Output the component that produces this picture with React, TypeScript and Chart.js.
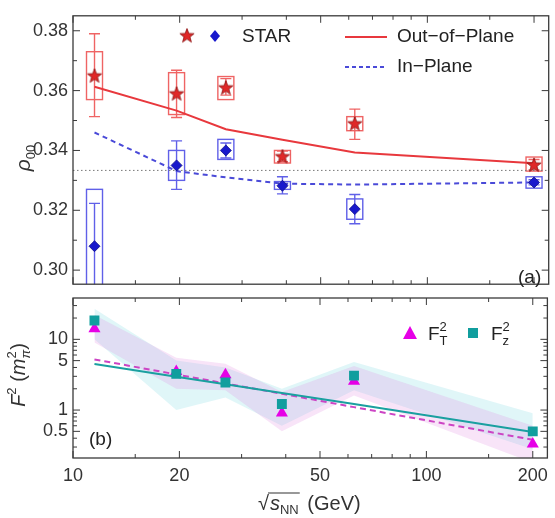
import React, { useEffect, useRef } from 'react';
import { Chart, registerables } from 'chart.js';
Chart.register(...registerables);

// ---------- data ----------
const energies = [11.5, 19.6, 27, 39, 62.4, 200];

// STAR stars (red)
const rhoStar = [0.365, 0.359, 0.361, 0.338, 0.349, 0.3352];
const rhoStarStatLo = [0.3513, 0.351, 0.3585, 0.3362, 0.3437, 0.3335];
const rhoStarStatHi = [0.379, 0.3668, 0.364, 0.3398, 0.3538, 0.337];
const rhoStarSysLo = [0.357, 0.352, 0.357, 0.3358, 0.3466, 0.3331];
const rhoStarSysHi = [0.373, 0.366, 0.3647, 0.340, 0.3513, 0.3378];

// STAR diamonds (blue)
const rhoDia = [0.308, 0.335, 0.340, 0.3282, 0.3204, 0.3293];
const rhoDiaStatLo = [0.2935, 0.327, 0.3375, 0.3255, 0.3155, 0.3285];
const rhoDiaStatHi = [0.3223, 0.3432, 0.3425, 0.3312, 0.3253, 0.3302];
const rhoDiaSysLo = [0.289, 0.330, 0.337, 0.327, 0.317, 0.3274];
const rhoDiaSysHi = [0.327, 0.340, 0.3437, 0.3296, 0.3238, 0.3312];

// model curves
const outOfPlane = [0.3613, 0.3533, 0.3471, 0.3436, 0.3393, 0.3357];
const inPlane = [0.346, 0.3331, 0.331, 0.3289, 0.3286, 0.3293];
const thirdX = [10, 220];
const thirdY = [1 / 3, 1 / 3];

// panel (b)
const fT2 = [14.1, 3.5, 3.15, 0.91, 2.55, 0.33];
const fZ2 = [18.5, 3.25, 2.45, 1.22, 3.07, 0.5];
const fitT = [5.2, 3.19, 2.38, 1.7, 1.1, 0.38];
const fitZ = [4.47, 2.96, 2.31, 1.74, 1.22, 0.49];
const bandZHi = [27, 5.0, 4.0, 2.0, 4.8, 0.9];
const bandZLo = [10, 1.0, 1.5, 0.6, 1.9, 0.28];
const bandTHi = [22, 5.5, 4.5, 1.8, 4.2, 0.6];
const bandTLo = [9, 2.0, 1.9, 0.5, 1.6, 0.18];

// ticks
const xMajorTicks = [10, 20, 50, 100, 200];
const xMinorTicks = [15, 30, 40, 60, 70, 80, 90, 150];
const rhoMajorTicks = [0.30, 0.32, 0.34, 0.36, 0.38];
const rhoMinorTicks = [0.31, 0.33, 0.35, 0.37];
const fMajorTicks = [0.5, 1, 5, 10];
const fMinorTicks = [0.3, 0.4, 0.6, 0.7, 0.8, 0.9, 2, 3, 4, 6, 7, 8, 9, 20, 30];

const FONT = '"Liberation Sans", Arial, sans-serif';
const TXT = '#333';
const RED = '#e8383d';
const BLUE = '#4a4ad8';

const pts = (ys: number[], xs: number[] = energies) => xs.map((x, i) => ({ x, y: ys[i] }));

function starPath(ctx: CanvasRenderingContext2D, cx: number, cy: number, R: number, r: number) {
  ctx.beginPath();
  for (let i = 0; i < 10; i++) {
    const a = -Math.PI / 2 + (i * Math.PI) / 5;
    const rad = i % 2 === 0 ? R : r;
    const px = cx + rad * Math.cos(a);
    const py = cy + rad * Math.sin(a);
    if (i === 0) ctx.moveTo(px, py);
    else ctx.lineTo(px, py);
  }
  ctx.closePath();
}

function makeStar(): HTMLCanvasElement {
  const c = document.createElement('canvas');
  c.width = 18;
  c.height = 18;
  const g = c.getContext('2d')!;
  starPath(g, 9, 9.5, 7.5, 3.1);
  g.fillStyle = '#e02828';
  g.fill();
  g.strokeStyle = '#8a1010';
  g.lineWidth = 0.8;
  g.stroke();
  return c;
}

type Part = { t: string; f: string; dy?: number; stack?: boolean };
function drawParts(ctx: CanvasRenderingContext2D, parts: Part[], x: number, y: number, center = false) {
  let w = 0;
  const widths: number[] = [];
  parts.forEach((p) => {
    ctx.font = p.f;
    widths.push(ctx.measureText(p.t).width);
  });
  parts.forEach((p, i) => {
    if (p.stack) return;
    const next = parts[i + 1];
    if (next && next.stack) w += Math.max(widths[i], widths[i + 1]);
    else w += widths[i];
  });
  let cx = center ? x - w / 2 : x;
  for (let i = 0; i < parts.length; i++) {
    const p = parts[i];
    ctx.font = p.f;
    ctx.fillText(p.t, cx, y + (p.dy || 0));
    const next = parts[i + 1];
    if (next && next.stack) {
      ctx.font = next.f;
      ctx.fillText(next.t, cx, y + (next.dy || 0));
      cx += Math.max(widths[i], widths[i + 1]);
      i++;
    } else {
      cx += widths[i];
    }
  }
}

function framePlugin(id: string, xMaj: number[], xMin: number[], yMaj: number[], yMin: number[]) {
  return {
    id,
    afterDraw(chart: any) {
      const { ctx, chartArea: a, scales } = chart;
      const xs = scales.x;
      const ys = scales.y;
      ctx.save();
      ctx.strokeStyle = '#3a3a3a';
      ctx.lineWidth = 1.3;
      ctx.strokeRect(a.left, a.top, a.right - a.left, a.bottom - a.top);
      ctx.lineWidth = 1;
      const tx = (v: number, L: number) => {
        const p = xs.getPixelForValue(v);
        if (p < a.left - 0.5 || p > a.right + 0.5) return;
        ctx.beginPath();
        ctx.moveTo(p, a.bottom);
        ctx.lineTo(p, a.bottom - L);
        ctx.moveTo(p, a.top);
        ctx.lineTo(p, a.top + L);
        ctx.stroke();
      };
      const ty = (v: number, L: number) => {
        const p = ys.getPixelForValue(v);
        if (p < a.top - 0.5 || p > a.bottom + 0.5) return;
        ctx.beginPath();
        ctx.moveTo(a.left, p);
        ctx.lineTo(a.left + L, p);
        ctx.moveTo(a.right, p);
        ctx.lineTo(a.right - L, p);
        ctx.stroke();
      };
      xMaj.forEach((v) => tx(v, 7));
      xMin.forEach((v) => tx(v, 4));
      yMaj.forEach((v) => ty(v, 7));
      yMin.forEach((v) => ty(v, 4));
      ctx.restore();
    },
  };
}

export default function App() {
  const topRef = useRef<HTMLCanvasElement>(null);
  const botRef = useRef<HTMLCanvasElement>(null);

  useEffect(() => {
    const starImg = makeStar();

    const errPlugin = {
      id: 'errBoxes',
      beforeDatasetsDraw(chart: any) {
        const { ctx, chartArea: a, scales } = chart;
        const xs = scales.x;
        const ys = scales.y;
        ctx.save();
        ctx.beginPath();
        ctx.rect(a.left, a.top, a.right - a.left, a.bottom - a.top);
        ctx.clip();
        const series = [
          { c: '#ef6464', slo: rhoStarStatLo, shi: rhoStarStatHi, blo: rhoStarSysLo, bhi: rhoStarSysHi },
          { c: '#6060e8', slo: rhoDiaStatLo, shi: rhoDiaStatHi, blo: rhoDiaSysLo, bhi: rhoDiaSysHi },
        ];
        series.forEach((s) => {
          ctx.strokeStyle = s.c;
          ctx.lineWidth = 1.4;
          energies.forEach((e, i) => {
            const px = xs.getPixelForValue(e);
            const yb1 = ys.getPixelForValue(s.bhi[i]);
            const yb2 = ys.getPixelForValue(s.blo[i]);
            ctx.strokeRect(px - 8, yb1, 16, yb2 - yb1);
            const ys1 = ys.getPixelForValue(s.shi[i]);
            const ys2 = ys.getPixelForValue(s.slo[i]);
            ctx.beginPath();
            ctx.moveTo(px, ys1);
            ctx.lineTo(px, ys2);
            ctx.moveTo(px - 5.5, ys1);
            ctx.lineTo(px + 5.5, ys1);
            ctx.moveTo(px - 5.5, ys2);
            ctx.lineTo(px + 5.5, ys2);
            ctx.stroke();
          });
        });
        ctx.restore();
      },
    };

    const topDeco = {
      id: 'topDeco',
      afterDraw(chart: any) {
        const { ctx } = chart;
        ctx.save();
        ctx.textBaseline = 'middle';
        ctx.drawImage(starImg, 187 - 9, 36 - 9.5);
        ctx.beginPath();
        ctx.moveTo(215, 30);
        ctx.lineTo(220, 36);
        ctx.lineTo(215, 42);
        ctx.lineTo(210, 36);
        ctx.closePath();
        ctx.fillStyle = '#1818cc';
        ctx.fill();
        ctx.fillStyle = '#222';
        ctx.font = `19px ${FONT}`;
        ctx.fillText('STAR', 242, 37);
        ctx.fillText('Out\u2212of\u2212Plane', 397, 37);
        ctx.fillText('In\u2212Plane', 397, 67);
        ctx.strokeStyle = RED;
        ctx.lineWidth = 2;
        ctx.beginPath();
        ctx.moveTo(345, 37);
        ctx.lineTo(387, 37);
        ctx.stroke();
        ctx.strokeStyle = BLUE;
        ctx.setLineDash([4, 3]);
        ctx.beginPath();
        ctx.moveTo(345, 67);
        ctx.lineTo(387, 67);
        ctx.stroke();
        ctx.setLineDash([]);
        ctx.fillStyle = '#222';
        ctx.fillText('(a)', 518, 278);
        ctx.translate(30, 158);
        ctx.rotate(-Math.PI / 2);
        ctx.textBaseline = 'alphabetic';
        ctx.fillStyle = '#333';
        drawParts(
          ctx,
          [
            { t: '\u03c1', f: `italic 21px ${FONT}` },
            { t: '00', f: `13px ${FONT}`, dy: 5 },
          ],
          0,
          0,
          true
        );
        ctx.restore();
      },
    };

    const top = new Chart(topRef.current!, {
      type: 'line',
      data: {
        datasets: [
          {
            label: 'third',
            data: pts(thirdY, thirdX),
            borderColor: '#777',
            borderWidth: 1,
            borderDash: [1.5, 2.5],
            pointRadius: 0,
            order: 20,
          },
          {
            label: 'Out-of-Plane',
            data: pts(outOfPlane),
            borderColor: RED,
            borderWidth: 2,
            pointRadius: 0,
            order: 10,
          },
          {
            label: 'In-Plane',
            data: pts(inPlane),
            borderColor: BLUE,
            borderWidth: 2,
            borderDash: [5, 4],
            pointRadius: 0,
            order: 10,
          },
          {
            label: 'STAR star',
            data: pts(rhoStar),
            showLine: false,
            pointStyle: starImg as any,
            order: 1,
          },
          {
            label: 'STAR diamond',
            data: pts(rhoDia),
            showLine: false,
            pointStyle: 'rectRot',
            pointRadius: 5.5,
            backgroundColor: '#1818cc',
            borderColor: '#10108a',
            borderWidth: 0.8,
            order: 1,
          },
        ],
      },
      options: {
        responsive: false,
        animation: false,
        events: [],
        layout: { padding: { left: 0, right: 3, top: 10, bottom: 2 } },
        plugins: { legend: { display: false }, tooltip: { enabled: false } },
        scales: {
          x: { type: 'logarithmic', min: 10, max: 220, display: false },
          y: {
            type: 'linear',
            min: 0.2953,
            max: 0.385,
            grid: { display: false, drawTicks: false },
            border: { display: false },
            ticks: {
              font: { family: FONT, size: 18 },
              color: TXT,
              padding: 5,
              callback: (v: any) => Number(v).toFixed(2),
            },
            afterBuildTicks: (s: any) => {
              s.ticks = rhoMajorTicks.map((v) => ({ value: v }));
            },
            afterFit: (s: any) => {
              s.width = 73;
            },
          },
        },
      },
      plugins: [errPlugin, framePlugin('frameTop', xMajorTicks, xMinorTicks, rhoMajorTicks, rhoMinorTicks), topDeco],
    } as any);

    const botDeco = {
      id: 'botDeco',
      afterDraw(chart: any) {
        const { ctx } = chart;
        ctx.save();
        ctx.fillStyle = '#222';
        ctx.font = `19px ${FONT}`;
        ctx.textBaseline = 'middle';
        ctx.fillText('(b)', 89, 440);
        ctx.fillStyle = '#e600e6';
        ctx.beginPath();
        ctx.moveTo(410, 326);
        ctx.lineTo(417, 339);
        ctx.lineTo(403, 339);
        ctx.closePath();
        ctx.fill();
        ctx.fillStyle = '#119e9e';
        ctx.fillRect(468, 328, 10, 10);
        ctx.fillStyle = '#222';
        ctx.textBaseline = 'alphabetic';
        drawParts(
          ctx,
          [
            { t: 'F', f: `19px ${FONT}` },
            { t: '2', f: `13px ${FONT}`, dy: -9 },
            { t: 'T', f: `13px ${FONT}`, dy: 5, stack: true },
          ],
          428,
          340
        );
        drawParts(
          ctx,
          [
            { t: 'F', f: `19px ${FONT}` },
            { t: '2', f: `13px ${FONT}`, dy: -9 },
            { t: 'z', f: `13px ${FONT}`, dy: 5, stack: true },
          ],
          491,
          340
        );
        ctx.fillStyle = '#333';
        const bx = 258;
        const by = 510;
        ctx.font = `20px ${FONT}`;
        ctx.fillText('\u221a', bx, by);
        const rw = ctx.measureText('\u221a').width;
        let cx = bx + rw;
        ctx.font = `italic 20px ${FONT}`;
        ctx.fillText('s', cx + 1, by);
        cx += ctx.measureText('s').width + 1;
        ctx.font = `13px ${FONT}`;
        ctx.fillText('NN', cx, by + 4);
        cx += ctx.measureText('NN').width + 1;
        ctx.strokeStyle = '#333';
        ctx.lineWidth = 1.2;
        ctx.beginPath();
        ctx.moveTo(bx + rw - 1, by - 17);
        ctx.lineTo(cx, by - 17);
        ctx.stroke();
        ctx.font = `20px ${FONT}`;
        ctx.fillText(' (GeV)', cx + 2, by);
        ctx.translate(25, 375);
        ctx.rotate(-Math.PI / 2);
        drawParts(
          ctx,
          [
            { t: 'F', f: `italic 20px ${FONT}` },
            { t: '2', f: `13px ${FONT}`, dy: -9 },
            { t: ' (', f: `20px ${FONT}` },
            { t: 'm', f: `italic 20px ${FONT}` },
            { t: '2', f: `13px ${FONT}`, dy: -9 },
            { t: '\u03c0', f: `italic 13px ${FONT}`, dy: 5, stack: true },
            { t: ')', f: `20px ${FONT}` },
          ],
          0,
          0,
          true
        );
        ctx.restore();
      },
    };

    const bot = new Chart(botRef.current!, {
      type: 'line',
      data: {
        datasets: [
          {
            label: 'bandZHi',
            data: pts(bandZHi),
            borderWidth: 0,
            pointRadius: 0,
            fill: '+1',
            backgroundColor: 'rgba(100,210,220,0.2)',
            order: 30,
          },
          { label: 'bandZLo', data: pts(bandZLo), borderWidth: 0, pointRadius: 0, order: 30 },
          {
            label: 'bandTHi',
            data: pts(bandTHi),
            borderWidth: 0,
            pointRadius: 0,
            fill: '+1',
            backgroundColor: 'rgba(220,120,220,0.2)',
            order: 29,
          },
          { label: 'bandTLo', data: pts(bandTLo), borderWidth: 0, pointRadius: 0, order: 29 },
          {
            label: 'fitZ',
            data: pts(fitZ),
            borderColor: '#1aa0a0',
            borderWidth: 2,
            pointRadius: 0,
            order: 10,
          },
          {
            label: 'fitT',
            data: pts(fitT),
            borderColor: '#cc44c4',
            borderWidth: 2,
            borderDash: [6, 4],
            pointRadius: 0,
            order: 11,
          },
          {
            label: 'F_T^2',
            data: pts(fT2),
            showLine: false,
            pointStyle: 'triangle',
            pointRadius: 7,
            backgroundColor: '#e600e6',
            borderColor: '#e600e6',
            borderWidth: 0,
            order: 2,
          },
          {
            label: 'F_z^2',
            data: pts(fZ2),
            showLine: false,
            pointStyle: 'rect',
            pointRadius: 7,
            backgroundColor: '#119e9e',
            borderColor: '#0d8080',
            borderWidth: 0,
            order: 1,
          },
        ],
      },
      options: {
        responsive: false,
        animation: false,
        events: [],
        layout: { padding: { left: 0, right: 3, top: 298, bottom: 0 } },
        plugins: { legend: { display: false }, tooltip: { enabled: false } },
        scales: {
          x: {
            type: 'logarithmic',
            min: 10,
            max: 220,
            grid: { display: false, drawTicks: false },
            border: { display: false },
            ticks: {
              font: { family: FONT, size: 18 },
              color: TXT,
              padding: 7,
              autoSkip: false,
              maxRotation: 0,
              callback: (v: any) => String(v),
            },
            afterBuildTicks: (s: any) => {
              s.ticks = xMajorTicks.map((v) => ({ value: v }));
            },
            afterFit: (s: any) => {
              s.height = 60;
            },
          },
          y: {
            type: 'logarithmic',
            min: 0.21,
            max: 38.4,
            grid: { display: false, drawTicks: false },
            border: { display: false },
            ticks: {
              font: { family: FONT, size: 18 },
              color: TXT,
              padding: 5,
              autoSkip: false,
              callback: (v: any) => String(v),
            },
            afterBuildTicks: (s: any) => {
              s.ticks = fMajorTicks.map((v) => ({ value: v }));
            },
            afterFit: (s: any) => {
              s.width = 73;
            },
          },
        },
      },
      plugins: [framePlugin('frameBot', xMajorTicks, xMinorTicks, fMajorTicks, fMinorTicks), botDeco],
    } as any);

    return () => {
      top.destroy();
      bot.destroy();
    };
  }, []);

  return (
    <div style={{ position: 'absolute', left: 0, top: 0, width: 555, height: 518, background: '#fff' }}>
      <canvas ref={topRef} width={555} height={300} style={{ position: 'absolute', left: 0, top: 0 }} />
      <canvas ref={botRef} width={555} height={518} style={{ position: 'absolute', left: 0, top: 0 }} />
    </div>
  );
}
